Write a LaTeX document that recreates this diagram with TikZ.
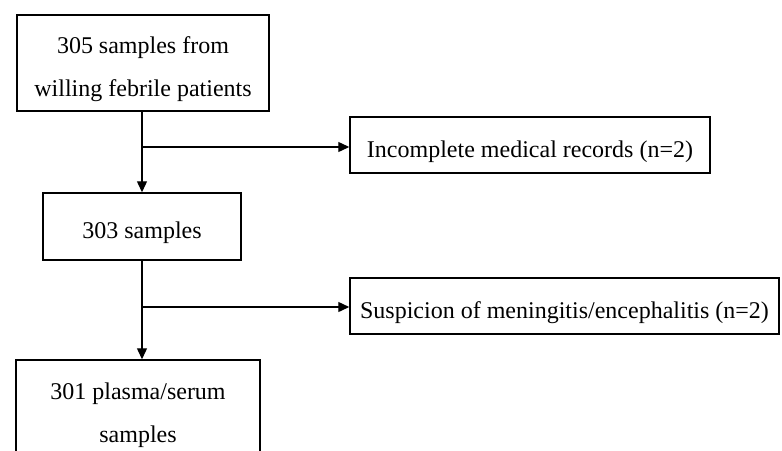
\documentclass[tikz,border=0pt]{standalone}
\usepackage{fontspec}
\setmainfont{Liberation Serif}
\usetikzlibrary{arrows.meta}
\newcommand\tstrut{\rule{0pt}{30pt}}
\newcommand\bstrut{\rule[-6pt]{0pt}{6pt}}
\begin{document}
\begin{tikzpicture}[x=1pt,y=-1pt,
  box/.style={draw=black, line width=1.5pt, rectangle, inner sep=0pt, align=center,
    font=\fontsize{24}{43}\selectfont},
  conn/.style={line width=1.4pt, -{Triangle[length=11pt,width=10pt]}}]
\useasboundingbox (0,0) rectangle (782,450);
\clip (0,0) rectangle (782,450);
\node[box, minimum width=252pt, minimum height=96pt] (b1) at (143,63) {\tstrut 305 samples from\\willing febrile patients\bstrut};
\node[box, minimum width=198pt, minimum height=67pt] (b2) at (142,226.5) {\tstrut 303 samples\bstrut};
\node[box, minimum width=244pt, minimum height=97pt] (b3) at (138,408.5) {\tstrut 301 plasma/serum\\samples\bstrut};
\node[box, minimum width=360pt, minimum height=56pt] (b4) at (530,145) {\tstrut Incomplete medical records (n=2)\bstrut};
\node[box, minimum width=429pt, minimum height=56pt] (b5) at (564.5,306) {\tstrut Suspicion of meningitis/encephalitis (n=2)\bstrut};
\coordinate (j1) at (142,147);
\coordinate (j2) at (142,307);
\draw[conn] (b1.south -| j1) -- (b2.north -| j1);
\draw[conn] (j1) -- (j1 -| b4.west);
\draw[conn] (b2.south -| j2) -- (b3.north -| j2);
\draw[conn] (j2) -- (j2 -| b5.west);
\end{tikzpicture}
\end{document}
